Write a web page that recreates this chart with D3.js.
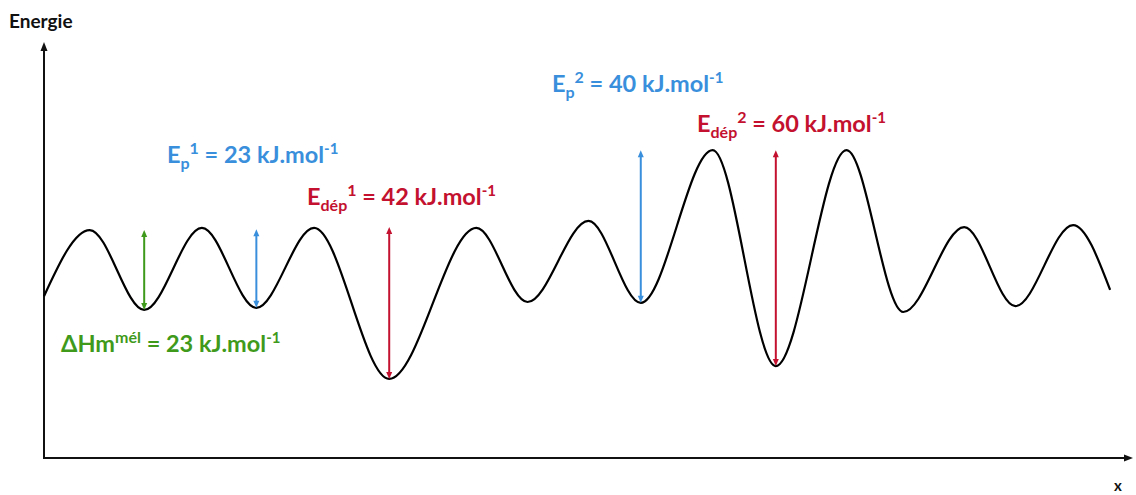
<!DOCTYPE html>
<html>
<head>
<meta charset="utf-8">
<script src="https://cdn.jsdelivr.net/npm/d3@7"></script>
<style>
  html, body { margin: 0; padding: 0; background: #fff; }
  svg { display: block; }
  text { font-family: Lato, "Open Sans", sans-serif; font-weight: bold; }
</style>
</head>
<body>
<svg id="chart" width="1136" height="495"></svg>
<script>
// reaction coordinate (arbitrary units) and energy (arbitrary units) of the curve extrema
var coordX = [0, 4.2, 9.2, 14.5, 19.5, 24.8, 31.7, 39.7, 44.4, 50.0, 54.8, 61.4, 67.2, 73.7, 78.9, 84.5, 89.2, 94.5, 97.9];
var energy = [38.9, 54.8, 35.6, 55.3, 36.1, 55.3, 19.0, 55.3, 37.5, 57.0, 37.3, 74.0, 22.1, 74.0, 35.1, 55.5, 36.5, 56.0, 40.4];

// double arrows: index of the well they start in, energy they reach
var arrowWell = [2, 4, 6, 10, 12];
var arrowTop  = [54.8, 55.0, 55.5, 74.0, 74.0];
var arrowKind = ["green", "blue", "red", "blue", "red"];

// label texts: main, subscript, superscript, rest
var labelMain = ["E", "E", "E", "E", "\u0394Hm"];
var labelSub  = ["p", "d\u00e9p", "p", "d\u00e9p", ""];
var labelSup  = ["1", "1", "2", "2", "m\u00e9l"];
var labelRest = [" = 23 kJ.mol", " = 42 kJ.mol", " = 40 kJ.mol", " = 60 kJ.mol", " = 23 kJ.mol"];
var labelKind = ["blue", "red", "blue", "red", "green"];

var colors = { green: "#3f9a1c", blue: "#3a8fdc", red: "#c3112f" };
var labelPos = [[167, 163], [307, 205], [552, 92], [697, 132], [61, 352]];

var width = 1136, height = 495;
var svg = d3.select("#chart");

var x = d3.scaleLinear().domain([0, 100]).range([44, 1133]);
var y = d3.scaleLinear().domain([0, 100]).range([458, 42]);

function arrowHead(g, px, py, dir, col, w, h) {
    // dir = -1 pointing up, 1 pointing down, 2 pointing right
    var pts;
    if (dir === 2) pts = [[px, py], [px - h, py - w / 2], [px - h, py + w / 2]];
    else pts = [[px, py], [px - w / 2, py - dir * h], [px + w / 2, py - dir * h]];
    g.append("path").attr("d", "M" + pts.join("L") + "Z").attr("fill", col);
}

// axes
var axes = svg.append("g");
axes.append("line")
    .attr("x1", x(0)).attr("x2", x(0))
    .attr("y1", y(0)).attr("y2", y(100) + 4)
    .attr("stroke", "#111").attr("stroke-width", 2);
axes.append("line")
    .attr("x1", x(0) - 1).attr("x2", x(100) - 4)
    .attr("y1", y(0)).attr("y2", y(0))
    .attr("stroke", "#111").attr("stroke-width", 2);
arrowHead(axes, x(0), y(100), -1, "#111", 7, 9);
arrowHead(axes, x(100), y(0), 2, "#111", 7, 9);

svg.append("text").attr("x", 9).attr("y", 28).attr("font-size", 19).attr("fill", "#111").text("Energie");
svg.append("text").attr("x", 1114).attr("y", 491).attr("font-size", 15).attr("fill", "#111").text("x");

// curve
var pts = coordX.map(function(d, i) { return [d, energy[i]]; });
var line = d3.line()
    .x(function(d) { return x(d[0]); })
    .y(function(d) { return y(d[1]); })
    .curve(d3.curveMonotoneX);

svg.append("path")
    .datum(pts)
    .attr("d", line)
    .attr("fill", "none")
    .attr("stroke", "#000")
    .attr("stroke-width", 2.2);

// arrows
arrowWell.forEach(function(w, i) {
    var col = colors[arrowKind[i]];
    var g = svg.append("g");
    var xx = x(coordX[w]), y0 = y(energy[w]), y1 = y(arrowTop[i]);
    g.append("line")
        .attr("x1", xx).attr("x2", xx)
        .attr("y1", y0 - 5).attr("y2", y1 + 5)
        .attr("stroke", col).attr("stroke-width", 2);
    arrowHead(g, xx, y1, -1, col, 6, 7);
    arrowHead(g, xx, y0, 1, col, 6, 7);
});

// labels
labelMain.forEach(function(m, i) {
    var t = svg.append("text")
        .attr("x", labelPos[i][0]).attr("y", labelPos[i][1])
        .attr("font-size", 23.5)
        .attr("fill", colors[labelKind[i]]);
    t.append("tspan").text(m);
    var shift = 0;
    if (labelSub[i]) {
        t.append("tspan").attr("font-size", 16).attr("dy", 6).text(labelSub[i]);
        shift = 6;
    }
    t.append("tspan").attr("font-size", 16).attr("dy", -shift - 9).text(labelSup[i]);
    t.append("tspan").attr("dy", 9).text(labelRest[i]);
    t.append("tspan").attr("font-size", 15).attr("dy", -9).text("-1");
});
</script>
</body>
</html>
